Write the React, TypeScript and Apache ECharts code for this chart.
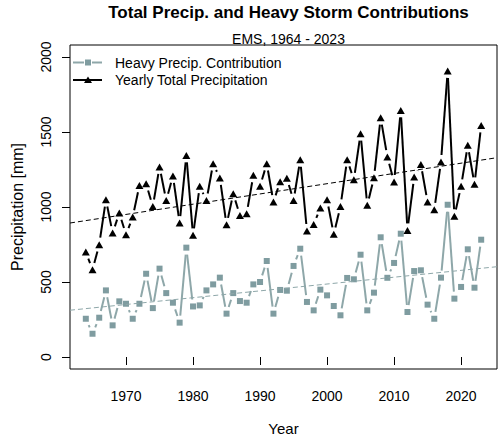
import React, { useEffect, useRef } from "react";
import * as echarts from "echarts";

const years = [
  1964, 1965, 1966, 1967, 1968, 1969, 1970, 1971, 1972, 1973,
  1974, 1975, 1976, 1977, 1978, 1979, 1980, 1981, 1982, 1983,
  1984, 1985, 1986, 1987, 1988, 1989, 1990, 1991, 1992, 1993,
  1994, 1995, 1996, 1997, 1998, 1999, 2000, 2001, 2002, 2003,
  2004, 2005, 2006, 2007, 2008, 2009, 2010, 2011, 2012, 2013,
  2014, 2015, 2016, 2017, 2018, 2019, 2020, 2021, 2022, 2023,
];

const totalPrecip = [
  700, 582, 749, 1049, 827, 960, 815, 933, 1144, 1155,
  1004, 1267, 1044, 1207, 893, 1344, 811, 1138, 1044, 1289,
  1193, 882, 1089, 944, 955, 1211, 1138, 1289, 1033, 1169,
  1191, 1044, 1315, 840, 884, 993, 1049, 818, 1004, 1315,
  1182, 1489, 1011, 1195, 1595, 1333, 1167, 1644, 844, 1200,
  1284, 1033, 982, 1300, 1907, 938, 1138, 1411, 1151, 1544,
];

const heavyPrecip = [
  255, 155, 262, 444, 211, 371, 355, 255, 355, 555,
  326, 589, 426, 362, 229, 729, 337, 344, 444, 484,
  529, 289, 426, 373, 362, 484, 500, 640, 289, 447,
  442, 607, 722, 367, 311, 449, 411, 340, 278, 527,
  518, 682, 311, 429, 798, 528, 627, 822, 300, 573,
  578, 349, 255, 529, 1015, 389, 467, 718, 462, 782,
];

const xTicks = [1970, 1980, 1990, 2000, 2010, 2020];
const yTicks = [0, 500, 1000, 1500, 2000];

const X_MIN = 1961.64;
const X_MAX = 2025.36;
const Y_MIN = -80;
const Y_MAX = 2080;

const FONT = "Liberation Sans, Arial, Helvetica, sans-serif";
const GREY = "#7f9ca0";
const GREY_LINE = "#8ea7a9";
const GAP = 7;

function fitLine(xs: number[], ys: number[]) {
  const n = xs.length;
  const mx = xs.reduce((a, b) => a + b, 0) / n;
  const my = ys.reduce((a, b) => a + b, 0) / n;
  let sxy = 0;
  let sxx = 0;
  for (let i = 0; i < n; i++) {
    sxy += (xs[i] - mx) * (ys[i] - my);
    sxx += (xs[i] - mx) * (xs[i] - mx);
  }
  const b = sxy / sxx;
  const a = my - b * mx;
  return [
    [X_MIN, a + b * X_MIN],
    [X_MAX, a + b * X_MAX],
  ];
}

function segments(xs: number[], ys: number[]) {
  const out: number[][] = [];
  for (let i = 0; i < xs.length - 1; i++) {
    out.push([xs[i], ys[i], xs[i + 1], ys[i + 1]]);
  }
  return out;
}

function gappedSeries(name: string, data: number[][], color: string) {
  return {
    name,
    type: "custom",
    data,
    z: 2,
    silent: true,
    renderItem: (params: any, api: any) => {
      const p0 = api.coord([api.value(0), api.value(1)]);
      const p1 = api.coord([api.value(2), api.value(3)]);
      const dx = p1[0] - p0[0];
      const dy = p1[1] - p0[1];
      const len = Math.sqrt(dx * dx + dy * dy);
      if (len <= 2 * GAP) return null;
      const ux = dx / len;
      const uy = dy / len;
      return {
        type: "line",
        shape: {
          x1: p0[0] + ux * GAP,
          y1: p0[1] + uy * GAP,
          x2: p1[0] - ux * GAP,
          y2: p1[1] - uy * GAP,
        },
        style: { stroke: color, lineWidth: 2, fill: null },
      };
    },
  };
}

export default function App() {
  const ref = useRef<HTMLDivElement>(null);

  useEffect(() => {
    document.body.style.margin = "0";
    if (!ref.current) return;
    const chart = echarts.init(ref.current, undefined, { renderer: "svg" });

    const totalData = years.map((y, i) => [y, totalPrecip[i]]);
    const heavyData = years.map((y, i) => [y, heavyPrecip[i]]);
    const totalTrend = fitLine(years, totalPrecip);
    const heavyTrend = fitLine(years, heavyPrecip);

    const option: any = {
      animation: false,
      backgroundColor: "#ffffff",
      title: [
        {
          text: "Total Precip. and Heavy Storm Contributions",
          left: 283.5,
          top: -1,
          textAlign: "center",
          textStyle: { fontFamily: FONT, fontSize: 17, fontWeight: "bold", color: "#000" },
        },
        {
          text: "EMS, 1964 - 2023",
          left: 283.5,
          top: 27,
          textAlign: "center",
          textStyle: { fontFamily: FONT, fontSize: 14, fontWeight: "normal", color: "#000" },
        },
      ],
      grid: {
        left: 70,
        right: 3,
        top: 45,
        bottom: 71,
        show: true,
        borderColor: "#000",
        borderWidth: 1,
        backgroundColor: "transparent",
      },
      xAxis: {
        type: "value",
        min: X_MIN,
        max: X_MAX,
        name: "Year",
        nameLocation: "middle",
        nameGap: 52,
        nameTextStyle: { fontFamily: FONT, fontSize: 15, color: "#000" },
        axisLine: { show: false },
        axisTick: {
          show: true,
          inside: false,
          length: 8,
          customValues: xTicks,
          lineStyle: { color: "#000", width: 1 },
        },
        axisLabel: {
          customValues: xTicks,
          formatter: (v: number) => String(v),
          margin: 20,
          fontFamily: FONT,
          fontSize: 14,
          color: "#000",
        },
        splitLine: { show: false },
      },
      yAxis: {
        type: "value",
        min: Y_MIN,
        max: Y_MAX,
        name: "Precipitation [mm]",
        nameLocation: "middle",
        nameGap: 45,
        nameTextStyle: { fontFamily: FONT, fontSize: 16, color: "#000" },
        axisLine: { show: false },
        axisTick: {
          show: true,
          inside: false,
          length: 8,
          customValues: yTicks,
          lineStyle: { color: "#000", width: 1 },
        },
        axisLabel: {
          customValues: yTicks,
          formatter: (v: number) => String(v),
          rotate: 90,
          margin: 17,
          fontFamily: FONT,
          fontSize: 14,
          color: "#000",
        },
        splitLine: { show: false },
      },
      series: [
        gappedSeries("Heavy Precip. Contribution line", segments(years, heavyPrecip), GREY_LINE),
        gappedSeries("Yearly Total Precipitation line", segments(years, totalPrecip), "#000"),
        {
          name: "Heavy Precip. Contribution",
          type: "scatter",
          data: heavyData,
          symbol: "rect",
          symbolSize: 6,
          z: 4,
          itemStyle: { color: GREY, opacity: 1 },
        },
        {
          name: "Yearly Total Precipitation",
          type: "scatter",
          data: totalData,
          symbol: "triangle",
          symbolSize: [8, 7],
          z: 4,
          itemStyle: { color: "#000", opacity: 1 },
        },
        {
          name: "Heavy trend",
          type: "line",
          data: heavyTrend,
          symbol: "none",
          z: 5,
          lineStyle: { color: GREY_LINE, width: 1, type: [5, 3] },
        },
        {
          name: "Total trend",
          type: "line",
          data: totalTrend,
          symbol: "none",
          z: 5,
          lineStyle: { color: "#000", width: 1, type: [5, 3] },
        },
      ],
      graphic: [
        {
          type: "line",
          shape: { x1: 73, y1: 62.5, x2: 102, y2: 62.5 },
          style: { stroke: GREY_LINE, lineWidth: 2 },
        },
        {
          type: "rect",
          shape: { x: 84, y: 59, width: 8, height: 7 },
          style: { fill: "#ffffff" },
        },
        {
          type: "rect",
          shape: { x: 85, y: 59.5, width: 6, height: 6 },
          style: { fill: GREY },
        },
        {
          type: "text",
          x: 115,
          y: 62.5,
          style: {
            text: "Heavy Precip. Contribution",
            fontFamily: FONT,
            fontSize: 14,
            fill: "#000",
            verticalAlign: "middle",
          },
        },
        {
          type: "line",
          shape: { x1: 73, y1: 80, x2: 102, y2: 80 },
          style: { stroke: "#000", lineWidth: 2 },
        },
        {
          type: "polygon",
          shape: { points: [[88, 76.5], [92, 83], [84, 83]] },
          style: { fill: "#000" },
        },
        {
          type: "text",
          x: 115,
          y: 80,
          style: {
            text: "Yearly Total Precipitation",
            fontFamily: FONT,
            fontSize: 14,
            fill: "#000",
            verticalAlign: "middle",
          },
        },
      ],
    };

    chart.setOption(option);
    return () => {
      chart.dispose();
    };
  }, []);

  return <div ref={ref} style={{ width: 500, height: 441 }} />;
}
